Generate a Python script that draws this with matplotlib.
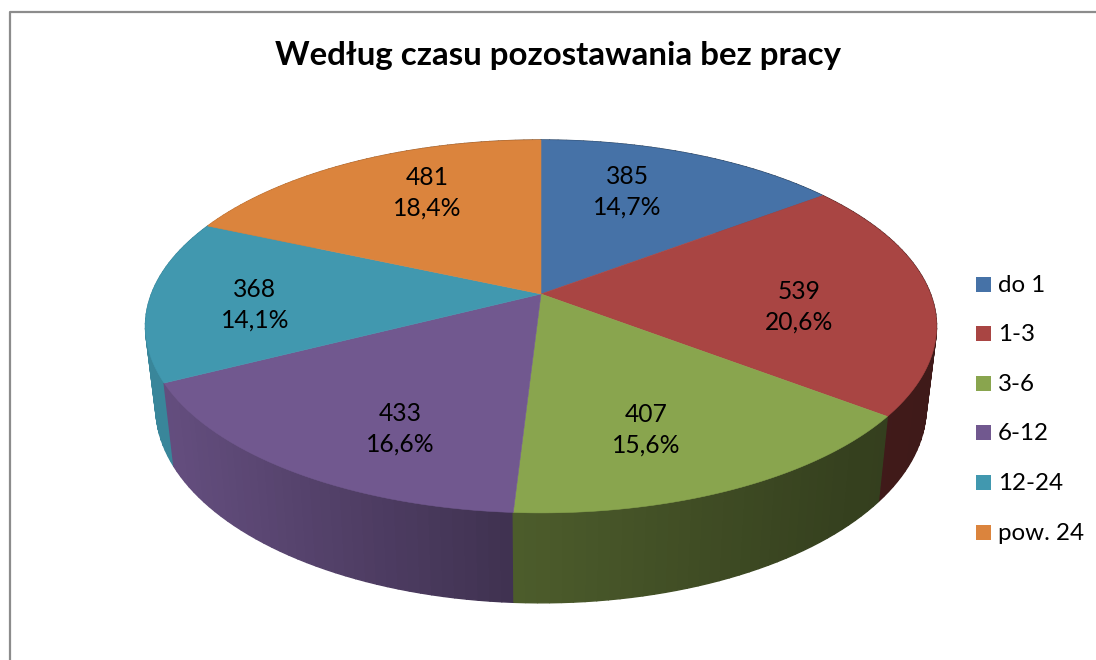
import matplotlib
matplotlib.use('Agg')
import matplotlib.pyplot as plt
import numpy as np
from matplotlib.patches import Polygon, Rectangle

plt.rcParams['font.family'] = ['Lato', 'DejaVu Sans']

title = 'Według czasu pozostawania bez pracy'
categories = ['do 1', '1-3', '3-6', '6-12', '12-24', 'pow. 24']
values = [385, 539, 407, 433, 368, 481]
colors = ['#4672a7', '#a94543', '#89a54e', '#71588f', '#4198af', '#db843d']

# text centres of the slice labels, in pixels
label_pos = [(627, 192), (799, 307), (646, 430), (400, 429), (255, 305), (427, 193)]

cx, cy = 541, 294   # apex of the pie
R, S, k = 389.5, 180.8, 0.174   # perspective of the top face


def rim(theta):
    # circle point -> picture, theta clockwise from the top
    w = 1 + k*np.cos(theta)
    return cx + R*np.sin(theta)/w, cy - S*np.cos(theta)/w


def lower(x, y):
    # top rim -> bottom rim of the side wall
    return cx + 0.974*(x - cx), 373 + 1.05*(y - cy)


def shade(x):
    return np.interp(x, [150, 170, 512, 850, 940], [0.88, 0.88, 0.56, 0.39, 0.37])


fig = plt.figure(figsize=(10.96, 6.6), dpi=100)
ax = fig.add_axes([0, 0, 1, 1])
ax.set_xlim(0, 1096)
ax.set_ylim(660, 0)
ax.axis('off')

# chart frame, cut by the picture on the right and at the bottom
ax.plot([10, 10, 1096], [660, 11.5, 11.5], c='#8c8c8c', lw=1.6)

shares = np.array(values)/np.sum(values)
edges = np.concatenate([[0], np.cumsum(shares)])*2*np.pi

# side walls, far parts first
walls = []
for i in range(len(values)):
    n = int(shares[i]*240) + 2
    th = np.linspace(edges[i], edges[i+1], n)
    for a, b in zip(th[:-1], th[1:]):
        walls.append((np.cos((a + b)/2), a, b, colors[i]))
walls.sort(key=lambda q: -q[0])
for _, a, b, col in walls:
    xa, ya = rim(a)
    xb, yb = rim(b)
    xa2, ya2 = lower(xa, ya)
    xb2, yb2 = lower(xb, yb)
    f = shade((xa + xb)/2)
    rgb = np.array(matplotlib.colors.to_rgb(col))*f
    ax.add_patch(Polygon([(xa, ya), (xb, yb), (xb2, yb2), (xa2, ya2)],
                         fc=rgb, ec=rgb, lw=1.0))

# top face
for i in range(len(values)):
    th = np.linspace(edges[i], edges[i+1], 200)
    x, y = rim(th)
    pts = np.column_stack([np.r_[cx, x], np.r_[cy, y]])
    ax.add_patch(Polygon(pts, fc=colors[i], ec=colors[i], lw=0.4))

# slice labels
for i, v in enumerate(values):
    pct = f'{shares[i]*100:.1f}'.replace('.', ',')
    ax.text(label_pos[i][0], label_pos[i][1], f'{v}\n{pct}%', ha='center', va='center',
            fontsize=17.7, color='black', linespacing=1.42)

ax.text(558, 56, title, ha='center', va='center', fontsize=23.8, fontweight='bold', color='black')

# legend
for i, name in enumerate(categories):
    y = 284 + i*49.6
    ax.add_patch(Rectangle((976, y - 7.5), 15, 15, fc=colors[i], ec='none'))
    ax.text(998, y + 1, name, ha='left', va='center', fontsize=17.4, color='black')

fig.savefig('out.png', dpi=100)
